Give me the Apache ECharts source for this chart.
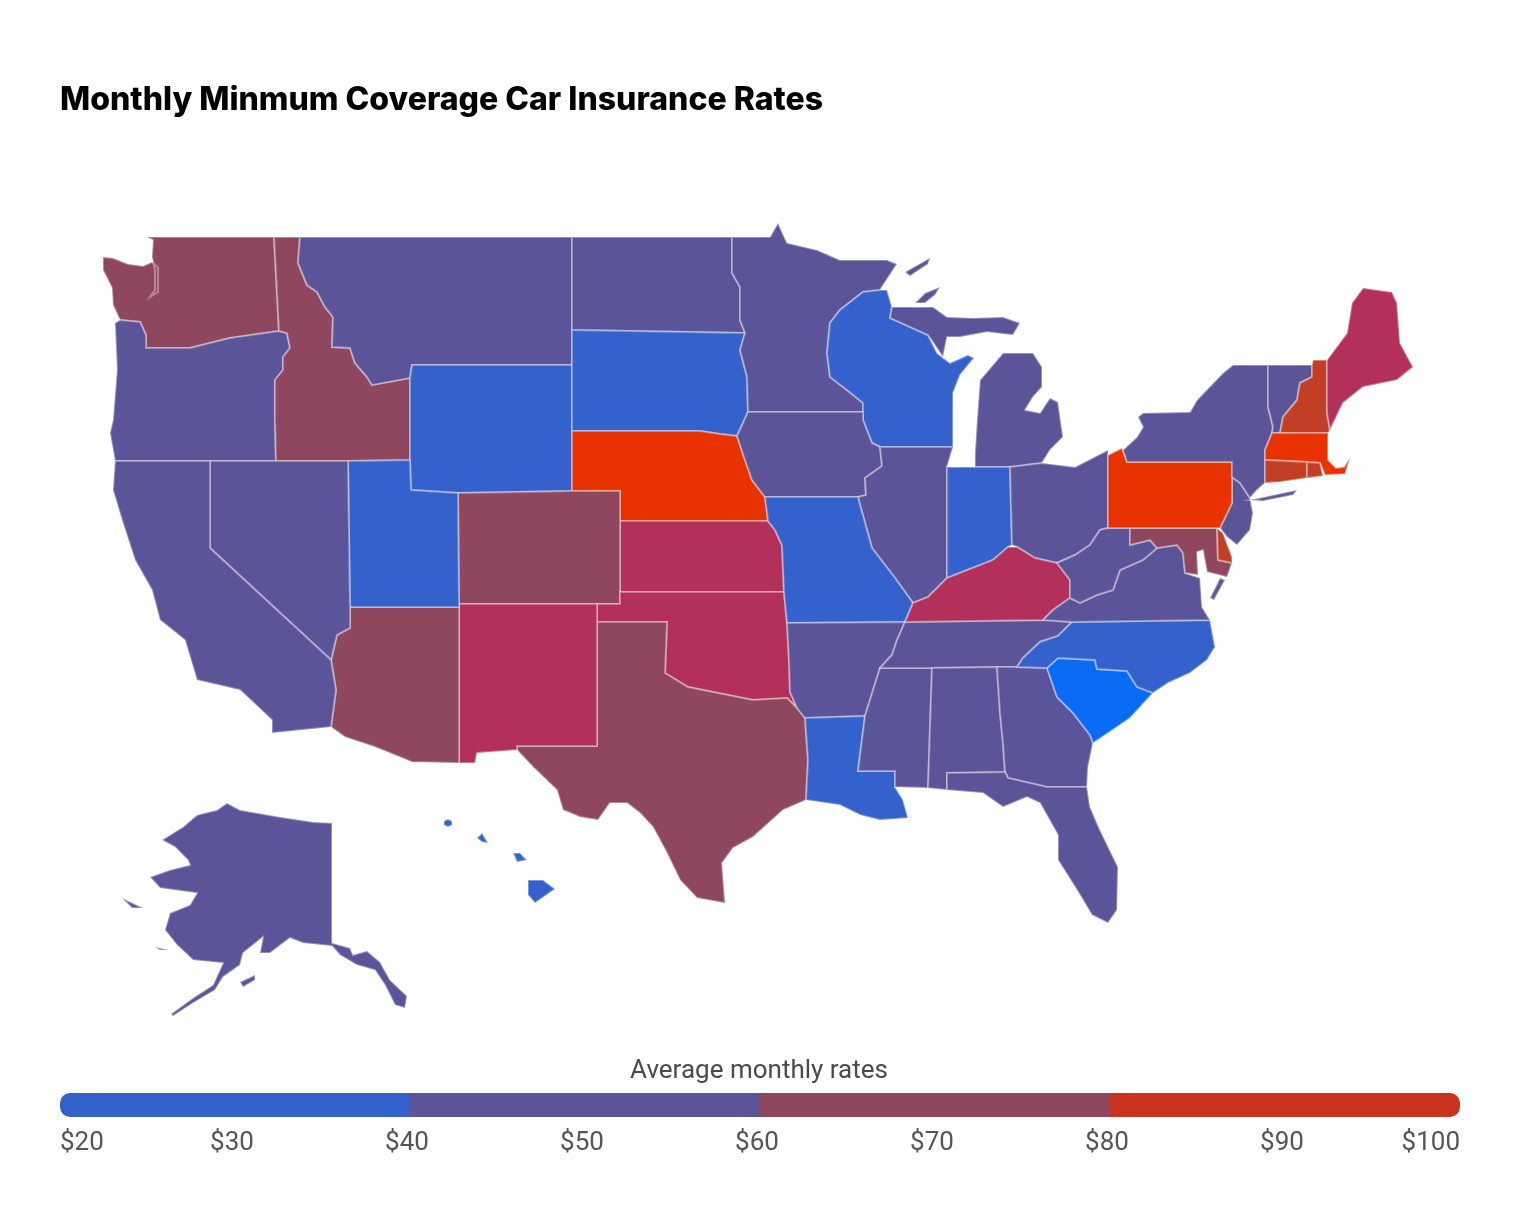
<!DOCTYPE html>
<html>
<head>
<meta charset="utf-8">
<title>Monthly Minmum Coverage Car Insurance Rates</title>
<script src="https://cdn.jsdelivr.net/npm/echarts@6/dist/echarts.min.js"></script>
<style>html,body{margin:0;padding:0;background:#fff}#c{width:1520px;height:1214px}</style>
</head>
<body>
<div id="c"></div>
<script>
const titleText = 'Monthly Minmum Coverage Car Insurance Rates';
const legendTitle = 'Average monthly rates';
const tickLabels = ['$20','$30','$40','$50','$60','$70','$80','$90','$100'];
const legendBandWidths = [20,20,20,20];
const legendBandColors = ['#3561cc','#5c5499','#8e475f','#c9341f'];

const stateNames = ['Alabama','Alaska','Arizona','Arkansas','California','Colorado','Connecticut','Delaware','Florida','Georgia','Hawaii','Idaho','Illinois','Indiana','Iowa','Kansas','Kentucky','Louisiana','Maine','Maryland','Massachusetts','Michigan','Minnesota','Mississippi','Missouri','Montana','Nebraska','Nevada','New Hampshire','New Jersey','New Mexico','New York','North Carolina','North Dakota','Ohio','Oklahoma','Oregon','Pennsylvania','Rhode Island','South Carolina','South Dakota','Tennessee','Texas','Utah','Vermont','Virginia','Washington','West Virginia','Wisconsin','Wyoming'];
const stateRates = [50,50,66,50,52,66,85,85,52,50,36,66,50,36,50,74,74,36,74,66,95,50,50,50,36,50,95,50,85,50,74,50,36,50,50,74,50,95,85,27,36,50,66,36,50,50,66,50,36,36];

const rateBands = [
  {min:20,max:30,color:'#0a6bf5'},
  {min:30,max:40,color:'#3561cc'},
  {min:40,max:60,color:'#5c5499'},
  {min:60,max:70,color:'#8e475f'},
  {min:70,max:80,color:'#b2305a'},
  {min:80,max:90,color:'#c23e25'},
  {min:90,max:100,color:'#e83300'}
];

// Basemap outlines (state boundary geometry for registerMap)
const outlines = {
'Washington':[[[147,237],[274,237],[279,331],[230,338],[190,348],[146,348],[146,335],[140,322],[120,320],[113,305],[112,288],[103,270],[103,257],[113,258],[128,264],[143,266],[152,262],[158,268],[158,292],[150,297],[155,290],[155,270],[152,257],[153,240]]],
'Oregon':[[[120,320],[140,322],[146,335],[146,348],[190,348],[230,338],[279,331],[287,333],[290,348],[283,357],[283,370],[275,380],[275,420],[276,461],[115,461],[110,433],[113,420],[117,370],[115,323]]],
'Idaho':[[[274,237],[300,237],[298,263],[307,285],[317,292],[325,307],[333,317],[332,347],[350,348],[355,363],[367,377],[372,385],[410,378],[410,460],[348,461],[276,461],[275,420],[275,380],[283,370],[283,357],[290,348],[287,333],[279,331]]],
'Montana':[[[300,237],[572,237],[572,365],[412,365],[410,378],[372,385],[367,377],[355,363],[350,348],[332,347],[333,317],[325,307],[317,292],[307,285],[298,263]]],
'Wyoming':[[[412,365],[572,365],[572,491],[458,493],[411,490],[410,460],[410,378]]],
'North Dakota':[[[572,237],[732,237],[732,273],[740,287],[740,320],[745,333],[572,330]]],
'South Dakota':[[[572,330],[745,333],[740,350],[747,377],[748,412],[737,436],[720,434],[700,431],[572,431]]],
'Nebraska':[[[572,431],[700,431],[720,434],[737,436],[745,460],[752,480],[765,497],[768,521],[620,521],[620,491],[572,491]]],
'Kansas':[[[620,521],[768,521],[775,530],[782,545],[784,592],[620,592]]],
'Colorado':[[[458,493],[572,491],[620,491],[620,604],[459,604]]],
'Oklahoma':[[[620,592],[784,592],[787,623],[789,660],[790,692],[797,708],[787,698],[753,700],[713,692],[688,687],[665,673],[667,622],[597,622],[597,604],[620,604]]],
'Texas':[[[597,622],[667,622],[665,673],[688,687],[713,692],[753,700],[787,698],[797,708],[805,718],[808,760],[806,800],[783,810],[753,837],[733,848],[722,863],[725,903],[697,898],[680,880],[667,853],[653,827],[640,813],[627,803],[610,803],[598,820],[580,817],[563,810],[557,790],[533,767],[517,750],[517,746],[597,746]]],
'New Mexico':[[[459,604],[597,604],[597,746],[517,746],[517,750],[477,753],[475,763],[459,763]]],
'Arizona':[[[350,607],[459,607],[459,763],[412,762],[375,747],[345,737],[331,727],[336,690],[331,660],[337,635],[350,628]]],
'Utah':[[[348,461],[410,460],[411,490],[458,493],[459,604],[459,607],[350,607]]],
'Nevada':[[[210,461],[276,461],[348,461],[350,607],[350,628],[337,635],[331,660],[210,548]]],
'California':[[[115,461],[210,461],[210,548],[331,660],[336,690],[331,727],[272,733],[272,720],[240,690],[197,680],[185,640],[160,620],[152,590],[135,560],[122,520],[113,490]]],
'Minnesota':[[[732,237],[770,237],[778,223],[787,243],[817,250],[840,260],[887,260],[897,264],[880,290],[863,292],[840,310],[830,323],[827,353],[830,377],[847,390],[863,403],[863,412],[748,412],[747,377],[740,350],[745,333],[740,320],[740,287],[732,273]]],
'Wisconsin':[[[863,292],[880,290],[887,290],[892,307],[890,318],[928,335],[937,353],[950,363],[968,355],[974,358],[960,375],[953,393],[953,447],[880,447],[872,443],[863,420],[863,412],[863,403],[847,390],[830,377],[827,353],[830,323],[840,310]]],
'Michigan':[[[890,318],[892,307],[917,307],[933,307],[947,317],[973,318],[1003,317],[1020,323],[1013,335],[987,332],[960,337],[947,337],[943,357],[928,335]],[[975,467],[975,453],[977,420],[980,380],[1003,353],[1033,353],[1042,367],[1042,387],[1033,397],[1025,410],[1040,413],[1050,398],[1058,402],[1063,437],[1050,450],[1042,463],[1010,467]],[[905,272],[930,258],[928,264],[910,276]],[[915,303],[925,293],[940,287],[935,295],[925,303]]],
'Iowa':[[[748,412],[863,412],[863,420],[872,443],[880,447],[882,466],[865,478],[866,495],[858,497],[765,497],[752,480],[745,460],[737,436]]],
'Illinois':[[[880,447],[953,447],[947,467],[947,578],[928,597],[913,603],[895,578],[872,548],[860,505],[858,497],[866,495],[865,478],[882,466]]],
'Indiana':[[[947,467],[1010,467],[1012,545],[1008,547],[993,560],[947,578]]],
'Ohio':[[[1010,467],[1042,463],[1075,467],[1108,450],[1108,528],[1100,530],[1090,545],[1075,555],[1057,563],[1035,558],[1017,547],[1012,545]]],
'Missouri':[[[765,497],[858,497],[860,505],[872,548],[895,578],[913,603],[905,622],[787,623],[784,592],[782,545],[775,530],[768,521]]],
'Arkansas':[[[787,623],[905,622],[897,640],[892,655],[880,668],[870,700],[865,716],[805,718],[797,708],[790,692],[789,660]]],
'Louisiana':[[[805,718],[865,716],[858,771],[895,771],[895,787],[903,800],[908,818],[880,820],[860,815],[840,805],[806,800],[808,760]]],
'Mississippi':[[[880,668],[932,668],[928,788],[895,787],[895,771],[858,771],[865,716],[870,700]]],
'Tennessee':[[[905,622],[1043,620],[1072,622],[1058,636],[1040,642],[1023,658],[1017,667],[997,667],[932,668],[880,668],[892,655],[897,640]]],
'Kentucky':[[[905,622],[913,603],[928,597],[947,578],[993,560],[1008,547],[1017,547],[1035,558],[1057,563],[1070,580],[1070,598],[1053,610],[1043,620]]],
'Alabama':[[[932,668],[997,667],[1000,713],[1003,743],[1005,772],[947,773],[947,790],[928,788]]],
'Georgia':[[[997,667],[1017,667],[1047,668],[1057,697],[1073,713],[1090,735],[1093,743],[1088,767],[1087,787],[1047,787],[1008,778],[1005,772],[1003,743],[1000,713]]],
'Florida':[[[947,773],[1005,772],[1008,778],[1047,787],[1087,787],[1090,807],[1100,830],[1118,867],[1117,910],[1108,923],[1092,915],[1077,890],[1058,860],[1058,835],[1040,803],[1027,797],[1003,807],[983,793],[947,790]]],
'South Carolina':[[[1047,668],[1058,658],[1095,660],[1097,669],[1127,671],[1137,687],[1153,693],[1130,718],[1108,733],[1093,743],[1090,735],[1073,713],[1057,697]]],
'North Carolina':[[[1072,622],[1210,620],[1215,647],[1207,660],[1190,673],[1168,683],[1153,693],[1137,687],[1127,671],[1097,669],[1095,660],[1058,658],[1047,668],[1017,667],[1023,658],[1040,642],[1058,636]]],
'Virginia':[[[1043,620],[1053,610],[1070,598],[1080,603],[1097,595],[1113,590],[1120,570],[1143,560],[1157,548],[1177,545],[1183,553],[1185,573],[1200,578],[1202,607],[1210,620],[1072,622]],[[1220,578],[1225,580],[1214,600],[1210,598]]],
'West Virginia':[[[1108,528],[1130,528],[1130,545],[1150,540],[1157,548],[1143,560],[1120,570],[1113,590],[1097,595],[1080,603],[1070,598],[1070,580],[1057,563],[1075,555],[1090,545],[1100,530]]],
'Maryland':[[[1130,528],[1217,528],[1218,560],[1232,563],[1227,577],[1207,572],[1203,550],[1197,552],[1198,575],[1185,573],[1183,553],[1177,545],[1157,548],[1150,540],[1130,545]]],
'Delaware':[[[1217,528],[1223,533],[1232,557],[1232,563],[1218,560]]],
'New Jersey':[[[1232,477],[1240,483],[1250,498],[1253,513],[1250,530],[1237,545],[1227,537],[1220,528],[1232,503]]],
'Pennsylvania':[[[1108,455],[1122,448],[1127,462],[1232,462],[1232,477],[1232,503],[1220,528],[1108,528]]],
'New York':[[[1127,462],[1123,450],[1137,437],[1143,427],[1138,417],[1143,413],[1190,412],[1197,400],[1223,373],[1233,365],[1268,365],[1268,407],[1273,427],[1272,433],[1265,450],[1265,483],[1257,490],[1250,498],[1240,483],[1232,477],[1232,462]],[[1250,500],[1297,490],[1293,495],[1263,501]]],
'Vermont':[[[1268,365],[1312,365],[1312,377],[1300,383],[1297,400],[1283,417],[1280,433],[1272,433],[1273,427],[1268,407]]],
'New Hampshire':[[[1312,365],[1313,360],[1327,360],[1327,413],[1330,430],[1328,433],[1280,433],[1283,417],[1297,400],[1300,383],[1312,377]]],
'Maine':[[[1363,288],[1392,292],[1397,303],[1400,343],[1413,367],[1397,380],[1363,387],[1343,403],[1330,430],[1327,413],[1327,360],[1347,333],[1352,303]]],
'Massachusetts':[[[1272,433],[1328,433],[1328,460],[1336,468],[1344,467],[1350,458],[1345,474],[1325,475],[1320,463],[1307,462],[1265,460],[1265,450]]],
'Connecticut':[[[1265,460],[1307,462],[1307,478],[1280,482],[1265,483]]],
'Rhode Island':[[[1307,462],[1320,463],[1323,476],[1307,478]]],
'Hawaii':[[[528,880],[543,880],[555,889],[535,903],[528,895]],[[513,853],[520,853],[527,860],[517,862]],[[477,838],[482,833],[488,843],[482,842]],[[444,821],[448,819],[452,821],[452,825],[448,827],[444,825]]],
'Alaska':[[[227,803],[240,810],[280,817],[313,822],[332,823],[332,943],[350,948],[353,955],[367,951],[380,962],[390,980],[407,996],[405,1008],[395,1005],[385,985],[375,970],[357,965],[340,955],[332,946],[303,943],[290,938],[270,953],[260,953],[263,937],[243,953],[240,965],[223,977],[215,990],[193,1003],[173,1016],[171,1014],[193,998],[213,985],[223,963],[193,960],[177,945],[165,930],[170,913],[190,905],[197,893],[160,888],[150,877],[170,870],[190,865],[188,860],[175,847],[162,840],[183,827],[197,815],[217,810]],[[240,982],[255,975],[255,980],[243,987]],[[122,898],[143,908],[132,908]],[[155,947],[168,950],[160,950]]]
};

const features = Object.keys(outlines).map(name => ({
  type:'Feature',
  properties:{name},
  geometry:{type:'MultiPolygon',coordinates:outlines[name].map(ring => [ring.map(p => [p[0],-p[1]])])}
}));
echarts.registerMap('us',{type:'FeatureCollection',features});

const chart = echarts.init(document.getElementById('c'),null,{renderer:'canvas'});
const lastBand = legendBandWidths.length-1;
const labelFont = {fontFamily:'Roboto',fontSize:26,color:'#555'};
chart.setOption({
  animation:false,
  backgroundColor:'#fff',
  title:[
    {text:titleText,left:60,top:84,padding:0,textStyle:{fontFamily:'Inter',fontWeight:800,fontSize:32,color:'#000'}},
    {text:legendTitle,left:759,textAlign:'center',top:1058,padding:0,textStyle:{fontFamily:'Roboto',fontWeight:400,fontSize:26,color:'#4a4a4a'}}
  ],
  visualMap:{show:false,type:'piecewise',seriesIndex:0,pieces:rateBands},
  grid:{left:60,width:1400,top:1093,height:24},
  xAxis:{type:'value',min:0,max:80,interval:10,
    axisLine:{show:false},axisTick:{show:false},splitLine:{show:false},
    axisLabel:{
      formatter:(v)=>{const k=v/10;return (k===0||k===tickLabels.length-1)?tickLabels[k]:'{m|'+tickLabels[k]+'}';},
      rich:{m:{...labelFont,padding:[0,6,0,0]}},
      margin:13,...labelFont,alignMinLabel:'left',alignMaxLabel:'right',showMinLabel:true,showMaxLabel:true}},
  yAxis:{type:'category',data:[''],show:false},
  series:[
    {type:'map',map:'us',aspectScale:1,boundingCoords:[[0,0],[1520,-1214]],left:0,top:0,width:1520,height:1214,
      roam:false,silent:true,selectedMode:false,
      label:{show:false},emphasis:{disabled:true},
      itemStyle:{borderColor:'rgba(255,255,255,0.35)',borderWidth:2},
      data:stateNames.map((n,i)=>({name:n,value:stateRates[i]}))},
    ...legendBandWidths.map((w,i)=>({
      type:'bar',stack:'legend',barWidth:24,silent:true,data:[w],
      itemStyle:{color:legendBandColors[i],borderRadius:i===0?[10,0,0,10]:i===lastBand?[0,10,10,0]:0}
    }))
  ]
});
</script>
</body>
</html>
